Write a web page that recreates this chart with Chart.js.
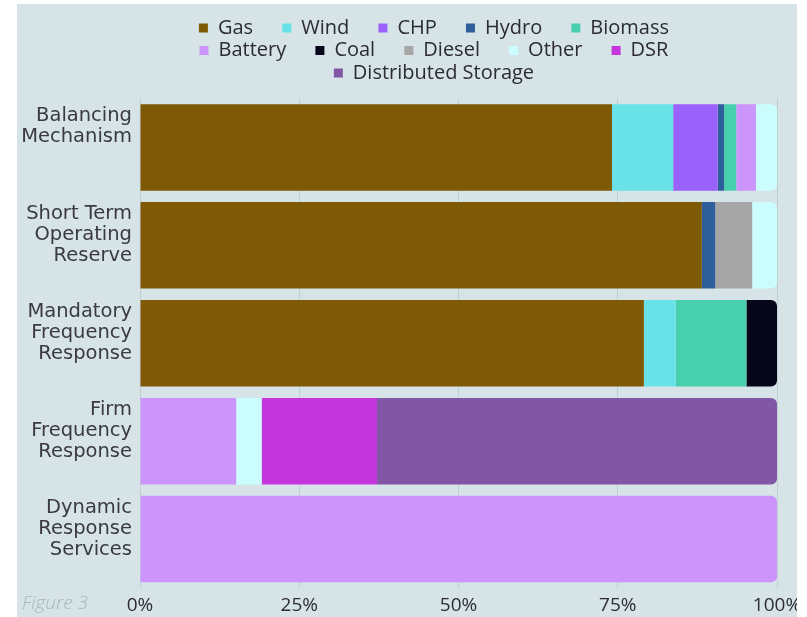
<!DOCTYPE html>
<html>
<head>
<meta charset="utf-8">
<script src="https://cdn.jsdelivr.net/npm/chart.js@4.4.1/dist/chart.umd.min.js"></script>
<style>
  html, body { margin: 0; padding: 0; background: #ffffff; }
  #panel {
    position: absolute; left: 17px; top: 4px;
    width: 780px; height: 613px; overflow: hidden;
    background: #d6e4e8;
  }
  canvas { display: block; }
</style>
</head>
<body>
<div id="panel"><canvas id="chart" width="800" height="613"></canvas></div>
<script>
// Balancing services (multi-line labels, padded so text sits near the bar top)
const services = [
  ['Balancing', 'Mechanism', '', ''],
  ['Short Term', 'Operating', 'Reserve', ''],
  ['Mandatory', 'Frequency', 'Response', ''],
  ['Firm', 'Frequency', 'Response', ''],
  ['Dynamic', 'Response', 'Services', '']
];

// Share of each technology per service, in percent
const gas         = [74.1, 88.2, 79.1, 0, 0];
const wind        = [9.6, 0, 5.0, 0, 0];
const chp         = [7.0, 0, 0, 0, 0];
const hydro       = [1.0, 2.1, 0, 0, 0];
const biomass     = [1.9, 0, 11.1, 0, 0];
const battery     = [3.1, 0, 0, 15.1, 100];
const coal        = [0, 0, 4.8, 0, 0];
const diesel      = [0, 5.8, 0, 0, 0];
const other       = [3.3, 3.9, 0, 4.0, 0];
const dsr         = [0, 0, 0, 18.1, 0];
const distStorage = [0, 0, 0, 62.8, 0];

const tickLabels = ['0%', '25%', '50%', '75%', '100%'];

const series = [
  ['Gas', gas, '#7f5a06'],
  ['Wind', wind, '#68e2e7'],
  ['CHP', chp, '#9a62fb'],
  ['Hydro', hydro, '#2e5f9a'],
  ['Biomass', biomass, '#48cfae'],
  ['Battery', battery, '#cb95fb'],
  ['Coal', coal, '#06051a'],
  ['Diesel', diesel, '#a6a6a6'],
  ['Other', other, '#ccfdfe'],
  ['DSR', dsr, '#c436dc'],
  ['Distributed Storage', distStorage, '#8156a5']
];

// Legend rows are wrapped inside a narrower centred band
const LEGEND_BAND_LEFT = 152.8;
const LEGEND_BAND_WIDTH = 555;
const LEGEND_GAP_BELOW = 5.5;

const legendBand = {
  id: 'legendBand',
  beforeLayout(chart) {
    const lg = chart.legend;
    if (!lg || lg._banded) return;
    lg._banded = true;
    const fit = lg.fit;
    lg.fit = function () {
      this.maxWidth = LEGEND_BAND_WIDTH;
      fit.call(this);
      this.height += LEGEND_GAP_BELOW;
    };
  },
  afterLayout(chart) {
    const lg = chart.legend;
    if (!lg) return;
    lg.left = LEGEND_BAND_LEFT;
    lg.right = LEGEND_BAND_LEFT + LEGEND_BAND_WIDTH;
    lg.width = LEGEND_BAND_WIDTH;
  }
};

const caption = {
  id: 'caption',
  afterDraw(chart) {
    const ctx = chart.ctx;
    ctx.save();
    ctx.font = 'italic 300 19px "Open Sans"';
    ctx.fillStyle = '#a9b6ba';
    ctx.textBaseline = 'middle';
    ctx.textAlign = 'left';
    ctx.fillText('Figure 3', 5, 600);
    ctx.restore();
  }
};

new Chart(document.getElementById('chart'), {
  type: 'bar',
  data: {
    labels: services,
    datasets: series.map(([name, values, color]) => ({
      label: name,
      data: values,
      backgroundColor: color,
      borderColor: color,
      borderWidth: 0,
      borderRadius: 6,
      borderSkipped: 'start',
      barPercentage: 0.884,
      categoryPercentage: 1
    }))
  },
  options: {
    indexAxis: 'y',
    responsive: false,
    animation: false,
    layout: { padding: { top: 11.5, right: 40, left: 0, bottom: 0 } },
    scales: {
      x: {
        stacked: true,
        min: 0,
        max: 100,
        ticks: {
          stepSize: 25,
          padding: 6,
          color: '#2d2d30',
          font: { family: 'Open Sans', size: 19 },
          callback: (v) => tickLabels[v / 25]
        },
        grid: { color: 'rgba(150,168,174,0.35)', drawTicks: false },
        border: { display: false },
        afterFit: (s) => { s.height = 29; }
      },
      y: {
        stacked: true,
        ticks: {
          autoSkip: false,
          padding: 8,
          color: '#3a3a40',
          font: { family: 'DejaVu Sans', size: 19.5, lineHeight: 1.08 }
        },
        grid: { display: false, drawTicks: false },
        border: { display: false },
        afterFit: (s) => { s.width = 123; s.paddingTop = 0; s.paddingBottom = 0; }
      }
    },
    plugins: {
      legend: {
        position: 'top',
        labels: {
          color: '#2b2b30',
          font: { family: 'Open Sans', size: 20 },
          boxWidth: 9,
          boxHeight: 9,
          padding: 2.5,
          generateLabels(chart) {
            const items = Chart.defaults.plugins.legend.labels.generateLabels(chart);
            items.forEach((it) => { it.text = it.text + '\u2003\u2004'; it.lineWidth = 0; });
            return items;
          }
        }
      },
      tooltip: { enabled: false }
    }
  },
  plugins: [legendBand, caption]
});
</script>
</body>
</html>
